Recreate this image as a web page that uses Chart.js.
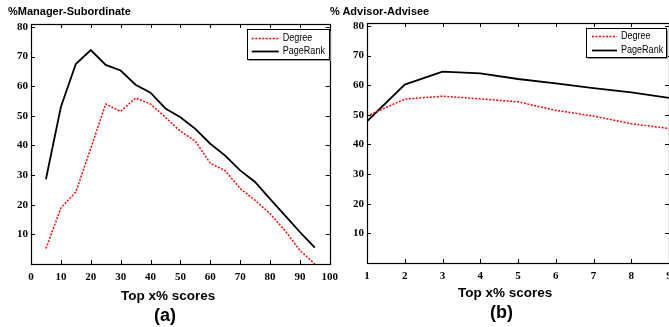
<!DOCTYPE html>
<html><head><meta charset="utf-8">
<script src="https://cdn.jsdelivr.net/npm/chart.js@4.4.0/dist/chart.umd.min.js"></script>
<style>
html,body{margin:0;padding:0;background:#fff;overflow:hidden;width:669px;height:327px;position:relative;}
canvas{position:absolute;top:0;}
.t{position:absolute;font-family:"Liberation Sans",Arial,sans-serif;font-weight:bold;color:#000;white-space:nowrap;line-height:1;}
</style></head><body>
<canvas id="c1" width="345" height="327" style="left:0px"></canvas>
<canvas id="c2" width="350" height="327" style="left:330px"></canvas>
<div class="t" style="left:8px;top:6px;font-size:11px">%Manager-Subordinate</div>
<div class="t" style="left:330px;top:6px;font-size:11px">% Advisor-Advisee</div>
<div class="t" style="left:121px;top:289px;font-size:13.5px">Top x% scores</div>
<div class="t" style="left:458px;top:286px;font-size:13.5px">Top x% scores</div>
<div class="t" style="left:154px;top:306px;font-size:18px">(a)</div>
<div class="t" style="left:490px;top:303px;font-size:18px">(b)</div>
<script>
// ---- data ----
const xA = [5,10,15,20,25,30,35,40,45,50,55,60,65,70,75,80,85,90,95];
const degreeA = [5.2,18.9,24.3,39,54,51.5,56,54,49.5,44.8,41.5,34,31.5,25.5,21.5,17,11.3,4.6,0];
const pageRankA = [28.6,53,67.5,72.2,67.2,65.3,60.5,57.8,52.5,49.5,45.6,40.6,36.6,31.6,27.7,22,16.4,10.8,5.5];
const xTicksA = [0,10,20,30,40,50,60,70,80,90,100];

const xB = [1,2,3,4,5,6,7,8,9];
const degreeB = [49.6,55.3,56.3,55.4,54.4,51.5,49.6,47,45.4];
const pageRankB = [47.8,60.2,64.6,64,62.1,60.6,59,57.6,55.7];
const xTicksB = [1,2,3,4,5,6,7,8,9];

const yTicks = [10,20,30,40,50,60,70,80];

const pts = (xs, ys) => xs.map((x,i)=>({x:x,y:ys[i]}));

const framePlugin = {
  id:'frameTicks',
  afterDraw(chart){
    const ctx = chart.ctx, a = chart.chartArea;
    const xs = chart.scales.x, ys = chart.scales.y;
    const L = 4;
    ctx.save();
    ctx.strokeStyle = '#000'; ctx.lineWidth = 1; ctx.setLineDash([]);
    ctx.beginPath();
    xs.ticks.forEach(t=>{
      const px = Math.round(xs.getPixelForValue(t.value)) + 0.5;
      ctx.moveTo(px, a.bottom); ctx.lineTo(px, a.bottom - L);
      ctx.moveTo(px, a.top); ctx.lineTo(px, a.top + L);
    });
    ys.ticks.forEach(t=>{
      const py = Math.round(ys.getPixelForValue(t.value)) + 0.5;
      ctx.moveTo(a.left, py); ctx.lineTo(a.left + L, py);
      ctx.moveTo(a.right, py); ctx.lineTo(a.right - L, py);
    });
    ctx.stroke();
    ctx.lineWidth = 1.2;
    ctx.strokeRect(Math.round(a.left)+0.5, Math.round(a.top)+0.5, Math.round(a.right-a.left), Math.round(a.bottom-a.top));
    // legend
    const o = chart.options.plugins.boxLegend;
    const right = a.right - o.rightGap, left = right - o.w, top = a.top + o.topGap, h = o.h;
    ctx.fillStyle = '#fff'; ctx.fillRect(left, top, o.w, h);
    ctx.strokeStyle = '#999'; ctx.lineWidth = 1;
    ctx.beginPath(); ctx.moveTo(left+2, top+h+1.5); ctx.lineTo(right+1.5, top+h+1.5); ctx.lineTo(right+1.5, top+2); ctx.stroke();
    ctx.strokeStyle = '#000';
    ctx.strokeRect(Math.round(left)+0.5, Math.round(top)+0.5, o.w, h);
    chart.data.datasets.forEach((ds,i)=>{
      const y = Math.round(top + o.row0 + i*o.rowH) + 0.5;
      ctx.beginPath(); ctx.setLineDash(ds.borderDash || []);
      ctx.strokeStyle = ds.borderColor; ctx.lineWidth = ds.borderWidth;
      ctx.moveTo(left + o.lx0, y); ctx.lineTo(left + o.lx1, y); ctx.stroke();
      ctx.setLineDash([]);
      ctx.fillStyle = '#000'; ctx.font = '10.5px "Liberation Sans", Arial, sans-serif';
      ctx.textBaseline = 'middle'; ctx.textAlign = 'left';
      ctx.save();
      ctx.translate(left + o.tx, y);
      ctx.scale(0.86, 1);
      ctx.fillText(ds.label, 0, 0);
      ctx.restore();
    });
    ctx.restore();
  }
};

const tickFont = {family:'"Liberation Serif", "Times New Roman", serif', size:11, weight:'bold'};

function makeChart(id, xs, deg, pr, xmin, xmax, xTicks, yW, leftPad, rightPad, topPad, bottomH, legend){
  return new Chart(document.getElementById(id), {
    type:'line',
    data:{datasets:[
      {label:'Degree', data:pts(xs,deg), borderColor:'#ff0000', borderWidth:1.5, borderDash:[2,1.5], pointRadius:0, tension:0, fill:false},
      {label:'PageRank', data:pts(xs,pr), borderColor:'#000000', borderWidth:1.8, pointRadius:0, tension:0, fill:false}
    ]},
    options:{
      responsive:false, animation:false, devicePixelRatio:1,
      layout:{padding:{left:leftPad, right:rightPad, top:topPad, bottom:0}},
      plugins:{legend:{display:false}, tooltip:{enabled:false}, boxLegend:legend},
      scales:{
        x:{type:'linear', min:xmin, max:xmax,
           afterBuildTicks:s=>{s.ticks = xTicks.map(v=>({value:v}));},
           afterFit:s=>{s.height = bottomH;},
           grid:{display:false, drawTicks:false}, border:{display:false},
           ticks:{color:'#000', font:tickFont, padding:7, maxRotation:0, autoSkip:false}},
        y:{type:'linear', min:0, max:81,
           afterBuildTicks:s=>{s.ticks = yTicks.map(v=>({value:v}));},
           afterFit:s=>{s.width = yW;},
           grid:{display:false, drawTicks:false}, border:{display:false},
           ticks:{color:'#000', font:tickFont, padding:3, autoSkip:false}}
      }
    },
    plugins:[framePlugin]
  });
}

makeChart('c1', xA, degreeA, pageRankA, 0, 100, xTicksA, 31, 0, 11, 24, 63,
  {rightGap:1, topGap:5, w:82, h:30, lx0:5, lx1:32, tx:36, row0:9, rowH:13});
makeChart('c2', xB, degreeB, pageRankB, 1, 9, xTicksB, 37, 0, 11, 23, 64,
  {rightGap:3, topGap:5, w:80, h:29, lx0:6, lx1:31, tx:35, row0:8, rowH:13.5});
</script>
</body></html>
